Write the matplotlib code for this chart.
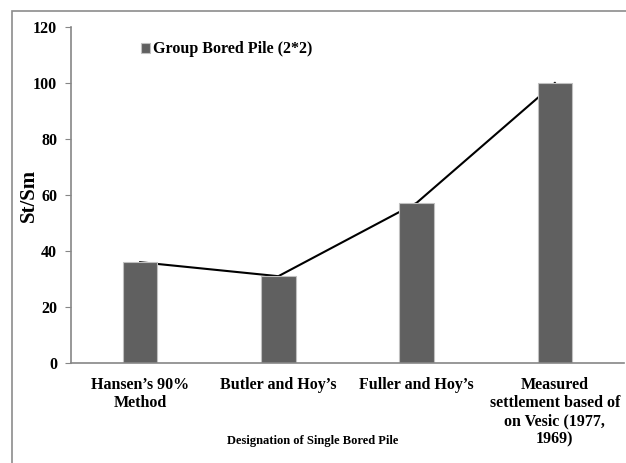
import matplotlib.pyplot as plt
from matplotlib.patches import Rectangle

categories = ["Hansen\u2019s 90%\nMethod", "Butler and Hoy\u2019s", "Fuller and Hoy\u2019s",
              "Measured\nsettlement based of\non Vesic (1977,\n1969)"]
values = [36, 31, 57.2, 100]

plt.rcParams['font.family'] = ['Liberation Serif', 'DejaVu Serif']
plt.rcParams['font.weight'] = 'bold'

fig = plt.figure(figsize=(6.26, 4.63), dpi=100)
# outer chart frame (runs off the right/bottom of the picture)
fig.patches.append(Rectangle((12 / 626, -0.05), 1.2, 1 - 11 / 463 + 0.05,
                             transform=fig.transFigure, fill=False,
                             edgecolor='#8c8c8c', linewidth=1.2))

ax = fig.add_axes([71 / 626, 1 - 363 / 463, 553 / 626, 336 / 463])
x = range(len(categories))
ax.plot(x, values, color='black', linewidth=1.5, zorder=1)
ax.bar(x, values, width=0.25, color='#606060', edgecolor='#c0c0c0',
       linewidth=0.8, zorder=2, label='Group Bored Pile (2*2)')

ax.set_xlim(-0.5, 3.5)
ax.set_ylim(0, 120)
ax.set_yticks(range(0, 121, 20))
ax.set_xticks(list(x))
ax.set_xticklabels(categories, fontsize=11.5, fontweight='bold', linespacing=1.17, va='top')
ax.tick_params(axis='x', length=0, pad=10)
ax.tick_params(axis='y', length=4, color='#868686', labelsize=11.5, pad=6)
for s in ['top', 'right']:
    ax.spines[s].set_visible(False)
for s in ['left', 'bottom']:
    ax.spines[s].set_color('#868686')
    ax.spines[s].set_linewidth(1.2)

ax.set_ylabel('St/Sm', fontsize=15, fontweight='bold')
ax.yaxis.set_label_coords(-0.058, 0.5)
fig.text(313 / 626, 1 - 441 / 463, 'Designation of Single Bored Pile',
         fontsize=9, fontweight='bold', ha='center', va='center')

ax.legend(loc='upper left', bbox_to_anchor=(0.1, 1.0), frameon=False,
          prop={'family': 'Liberation Serif', 'size': 11.5, 'weight': 'bold'},
          handlelength=0.6, handleheight=0.6, handletextpad=0.2)

fig.savefig('out.png', dpi=100)
